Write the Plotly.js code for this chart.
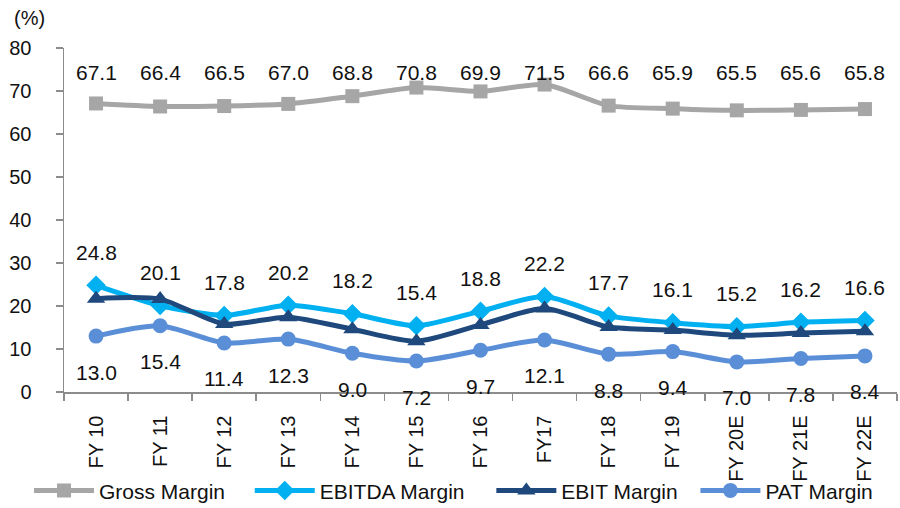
<!DOCTYPE html>
<html>
<head>
<meta charset="utf-8">
<script src="https://cdn.plot.ly/plotly-3.0.1.min.js"></script>
<style>
  html, body { margin: 0; padding: 0; background: #fff; }
  #chart { width: 900px; height: 508px; }
</style>
</head>
<body>
<div id="chart"></div>
<script>
// Margin trends by fiscal year (%)
const years = ["FY 10", "FY 11", "FY 12", "FY 13", "FY 14", "FY 15", "FY 16",
               "FY17", "FY 18", "FY 19", "FY 20E", "FY 21E", "FY 22E"];
const grossMargin  = [67.1, 66.4, 66.5, 67.0, 68.8, 70.8, 69.9, 71.5, 66.6, 65.9, 65.5, 65.6, 65.8];
const ebitdaMargin = [24.8, 20.1, 17.8, 20.2, 18.2, 15.4, 18.8, 22.2, 17.7, 16.1, 15.2, 16.2, 16.6];
const ebitMargin   = [21.7, 21.6, 15.8, 17.4, 14.6, 11.8, 15.6, 19.4, 15.1, 14.4, 13.2, 13.7, 14.1];
const patMargin    = [13.0, 15.4, 11.4, 12.3, 9.0, 7.2, 9.7, 12.1, 8.8, 9.4, 7.0, 7.8, 8.4];

const FONT = "Liberation Sans, Arial, sans-serif";
const AXIS_GREY = "#8c8c8c";

function series(name, values, color, symbol, size, legendId) {
  return {
    type: "scatter",
    mode: "lines+markers",
    name: name,
    x: years,
    y: values,
    legend: legendId,
    line: { color: color, width: 5, shape: "spline", smoothing: 0.7 },
    marker: { color: color, symbol: symbol, size: size },
    hoverinfo: "skip"
  };
}

const traces = [
  series("Gross Margin", grossMargin, "#a6a6a6", "square", 14, "legend"),
  series("EBITDA Margin", ebitdaMargin, "#00b0f0", "diamond", 15, "legend2"),
  series("EBIT Margin", ebitMargin, "#1f497d", "triangle-up", 16, "legend3"),
  series("PAT Margin", patMargin, "#5a8fd8", "circle", 15, "legend4")
];

const labelFont = { family: FONT, size: 21, color: "#111" };
const annotations = [];

// Gross margin values sit in one row above the line
years.forEach((yr, i) => {
  annotations.push({
    x: yr, y: 74.4, xref: "x", yref: "y",
    text: grossMargin[i].toFixed(1), showarrow: false,
    font: labelFont, yanchor: "middle"
  });
});
// EBITDA values above their points
years.forEach((yr, i) => {
  annotations.push({
    x: yr, y: ebitdaMargin[i], xref: "x", yref: "y",
    text: ebitdaMargin[i].toFixed(1), showarrow: false,
    font: labelFont, yanchor: "middle", yshift: 33
  });
});
// PAT values below their points
years.forEach((yr, i) => {
  annotations.push({
    x: yr, y: patMargin[i], xref: "x", yref: "y",
    text: patMargin[i].toFixed(1), showarrow: false,
    font: labelFont, yanchor: "middle", yshift: -36
  });
});
// Unit label above the value axis
annotations.push({
  x: -0.062, y: 1.087, xref: "paper", yref: "paper",
  text: "(%)", showarrow: false, xanchor: "left", yanchor: "middle",
  font: { family: FONT, size: 20, color: "#111" }
});

function legendAt(x) {
  return {
    orientation: "h",
    x: x, xanchor: "left",
    yref: "container",
    y: 0.034, yanchor: "middle",
    itemwidth: 60,
    font: { family: FONT, size: 21, color: "#111" },
    bgcolor: "rgba(0,0,0,0)"
  };
}

const layout = {
  width: 900,
  height: 508,
  margin: { l: 64, r: 3, t: 48, b: 116 },
  paper_bgcolor: "#fff",
  plot_bgcolor: "#fff",
  font: { family: FONT, size: 20, color: "#111" },
  showlegend: true,
  legend: legendAt(-0.042),
  legend2: legendAt(0.223),
  legend3: legendAt(0.513),
  legend4: legendAt(0.758),
  xaxis: {
    type: "category",
    range: [-0.5, years.length - 0.5],
    tickangle: -90,
    showline: true, linecolor: AXIS_GREY, linewidth: 1.5,
    ticks: "outside", tickson: "boundaries", ticklen: 7,
    tickcolor: AXIS_GREY, tickwidth: 1.5,
    ticklabelstandoff: 14,
    showgrid: false, zeroline: false,
    tickfont: { family: FONT, size: 20, color: "#111" },
    fixedrange: true
  },
  yaxis: {
    range: [0, 80],
    dtick: 10,
    showline: true, linecolor: AXIS_GREY, linewidth: 1.5,
    ticks: "outside", ticklen: 7, tickcolor: AXIS_GREY, tickwidth: 1.5,
    ticklabelstandoff: 20,
    showgrid: false, zeroline: false,
    tickfont: { family: FONT, size: 20, color: "#111" },
    fixedrange: true
  },
  annotations: annotations
};

Plotly.newPlot("chart", traces, layout, { displayModeBar: false, staticPlot: true });
</script>
</body>
</html>
